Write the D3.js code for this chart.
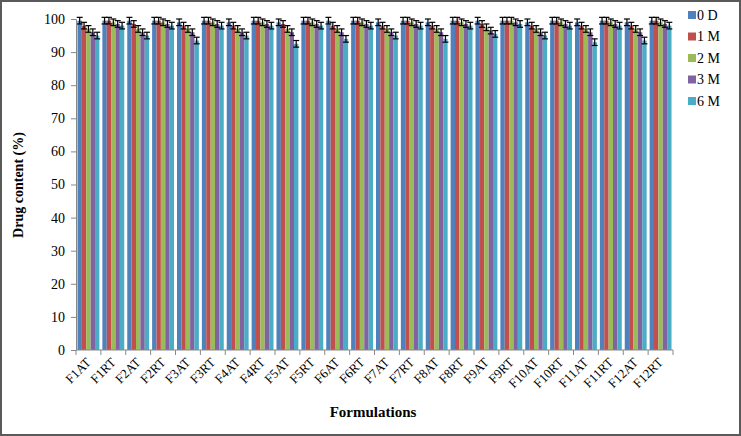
<!DOCTYPE html>
<html><head><meta charset="utf-8">
<script src="https://cdn.jsdelivr.net/npm/d3@7"></script>
<style>body{margin:0;background:#fff}svg{display:block}</style>
</head><body>
<script>
const categories = ["F1AT","F1RT","F2AT","F2RT","F3AT","F3RT","F4AT","F4RT","F5AT","F5RT","F6AT","F6RT","F7AT","F7RT","F8AT","F8RT","F9AT","F9RT","F10AT","F10RT","F11AT","F11RT","F12AT","F12RT"];
const seriesNames = ["0 D","1 M","2 M","3 M","6 M"];
const colors = ["#4F81BD","#C0504D","#9BBB59","#8064A2","#4BACC6"];
const d0 = [99.5,99.5,99.5,99.5,99,99.5,99,99.5,99,99.5,99.5,99.5,99,99.5,99,99.5,99.5,99.5,99,99.5,99,99.5,99,99.5];
const m1 = [98,99.5,98.5,99.5,98,99.5,98,99.5,98.5,99.5,98,99.5,98,99.5,98,99.5,98.5,99.5,98,99.5,98,99.5,98,99.5];
const m2 = [97,99,97,99,97,99,97,99,97,99,97,99,97,99,97,99,97.5,99.5,97,99,97,99,97,99];
const m3 = [96,98.5,96,98.5,96,98.5,96,98.5,96,98.5,96,98.5,96,98.5,96,98.5,96.5,99,96,98.5,96,98.5,96,98.5];
const m6 = [95,98,95,98,93.5,98,95,98,92.5,98,94,98,95,98,94,98,95.5,98.5,95,98,93,98,93.5,98];
const errs = [1,1,1,1,1];
const series = [d0,m1,m2,m3,m6];
const yTicks = [0,10,20,30,40,50,60,70,80,90,100];

const W=741,H=436;
const svg=d3.select("body").append("svg").attr("width",W).attr("height",H);
svg.append("rect").attr("x",1).attr("y",1).attr("width",W-2).attr("height",H-2).attr("fill","#fff").attr("stroke","#5a5a5a").attr("stroke-width",2);

const x0=d3.scaleBand().domain(categories).range([76,673]).paddingInner(0.12).paddingOuter(0.06);
const x1=d3.scaleBand().domain(d3.range(5)).range([0,x0.bandwidth()]);
const y=d3.scaleLinear().domain([0,100]).range([350,19]);
const font="'Liberation Serif','Times New Roman',serif";

series.forEach((s,i)=>{
  svg.append("g").selectAll("rect").data(s).join("rect")
    .attr("x",(d,j)=>x0(categories[j])+x1(i))
    .attr("y",d=>y(d)).attr("width",x1.bandwidth()).attr("height",d=>y(0)-y(d))
    .attr("fill",colors[i]);
});
series.forEach((s,i)=>{
  const g=svg.append("g").attr("stroke","#000").attr("stroke-width",1.2);
  s.forEach((d,j)=>{
    const cx=x0(categories[j])+x1(i)+x1.bandwidth()/2;
    const e=errs[i];
    g.append("line").attr("x1",cx).attr("x2",cx).attr("y1",y(d+e)).attr("y2",y(d-e));
    g.append("line").attr("x1",cx-3).attr("x2",cx+3).attr("y1",y(d+e)).attr("y2",y(d+e));
    g.append("line").attr("x1",cx-3).attr("x2",cx+3).attr("y1",y(d-e)).attr("y2",y(d-e));
  });
});

const ya=svg.append("g").attr("transform","translate(76,0)")
  .call(d3.axisLeft(y).tickValues(yTicks).tickSize(5).tickPadding(6));
ya.selectAll("path,line").attr("stroke","#888");
ya.selectAll("text").attr("font-family",font).attr("font-size",14).attr("fill","#000");

const xa=svg.append("g").attr("transform","translate(0,350)");
xa.append("line").attr("x1",76).attr("x2",673).attr("stroke","#888");
const bounds=d3.range(categories.length+1).map(k=>76+k*(673-76)/categories.length);
xa.selectAll("line.t").data(bounds).join("line").attr("class","t")
  .attr("x1",d=>d).attr("x2",d=>d).attr("y1",0).attr("y2",5).attr("stroke","#888");
xa.selectAll("text").data(categories).join("text")
  .attr("transform",d=>`translate(${x0(d)+x0.bandwidth()/2},${10}) rotate(-45)`)
  .attr("text-anchor","end").attr("dy","0.35em")
  .attr("font-family",font).attr("font-size",13).attr("fill","#000").text(d=>d);

svg.append("text").attr("transform","translate(23,185) rotate(-90)").attr("text-anchor","middle")
  .attr("font-family",font).attr("font-size",14).attr("font-weight","bold").text("Drug content (%)");
svg.append("text").attr("x",373).attr("y",417).attr("text-anchor","middle")
  .attr("font-family",font).attr("font-size",15).attr("font-weight","bold").text("Formulations");

const lg=svg.append("g");
seriesNames.forEach((n,i)=>{
  const yy=15+i*21.5;
  lg.append("rect").attr("x",688).attr("y",yy-4).attr("width",8).attr("height",8).attr("fill",colors[i]);
  lg.append("text").attr("x",697).attr("y",yy).attr("dy","0.35em").attr("font-family",font).attr("font-size",14).text(n);
});
</script>
</body></html>
